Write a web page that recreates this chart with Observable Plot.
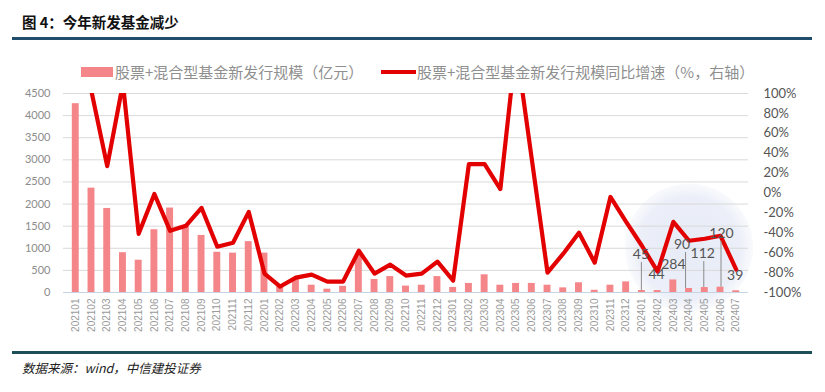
<!DOCTYPE html>
<html><head><meta charset="utf-8">
<script src="https://cdn.jsdelivr.net/npm/d3@7"></script>
<script src="https://cdn.jsdelivr.net/npm/@observablehq/plot@0.6"></script>
<style>
body{margin:0;background:#fff;}
#page{position:relative;width:825px;height:392px;overflow:hidden;font-family:"Noto Sans CJK SC",sans-serif;}
#title{position:absolute;left:22px;top:12px;font-size:14.5px;font-weight:bold;color:#111;line-height:20px;}
.rule{position:absolute;left:12px;width:800px;height:3px;}
#topRule{top:37px;background:#1f4d6b;}
#bottomRule{top:351px;background:#1b4e58;}
#legend{position:absolute;left:0;top:62px;height:20px;width:825px;font-size:15px;color:#8f8f8f;line-height:20px;}
.lg{position:absolute;top:0;white-space:nowrap;}
.sw{position:absolute;}
#chart{position:absolute;left:0;top:80px;}
#source{position:absolute;left:22px;top:359px;font-size:12.5px;font-style:italic;color:#222;line-height:18px;}
</style></head><body>
<div id="page">
  <div id="title">图 4：今年新发基金减少</div>
  <div class="rule" id="topRule"></div>
  <div id="legend">
    <div class="sw" style="left:81px;top:5px;width:32px;height:10px;background:#f4868a"></div>
    <div class="lg" style="left:115px">股票+混合型基金新发行规模（亿元）</div>
    <div class="sw" style="left:381px;top:8px;width:35px;height:4px;background:#e30000"></div>
    <div class="lg" style="left:417px">股票+混合型基金新发行规模同比增速（%，右轴）</div>
  </div>
  <div id="chart"></div>
  <div class="rule" id="bottomRule"></div>
  <div id="source">数据来源：wind，中信建投证券</div>
</div>
<script>
// ---- data ----
const months = ["202101","202102","202103","202104","202105","202106","202107","202108","202109","202110","202111","202112",
  "202201","202202","202203","202204","202205","202206","202207","202208","202209","202210","202211","202212",
  "202301","202302","202303","202304","202305","202306","202307","202308","202309","202310","202311","202312",
  "202401","202402","202403","202404","202405","202406","202407"];
// 股票+混合型基金新发行规模（亿元）
const issueSize = [4270,2360,1900,900,730,1420,1910,1500,1290,910,890,1150,
  890,160,300,165,75,140,840,295,360,145,165,360,
  115,205,400,165,205,205,165,105,220,50,165,240,
  45,44,284,90,112,120,39];
// 同比增速（%，右轴）
const yoyGrowth = [null,102,27,110,-41,-1,-38,-33,-15,-54,-50,-19,
  -81,-94,-85,-82,-89,-89,-58,-81,-72,-83,-81,-69,
  -88,29,29,4,148,34,-80,-61,-40,-70,-4,-29,
  -53,-79,-29,-48,-46,-43,-77];
const leftTicks = [0,500,1000,1500,2000,2500,3000,3500,4000,4500];
const rightTicks = [-100,-80,-60,-40,-20,0,20,40,60,80,100];
const labelledMonths = ["202401","202402","202403","202404","202405","202406","202407"];
const highlight = {month:"202404", pct:-55};

// ---- annotation layout (pixels) ----
const labelLayout = {
  "202401":{dx:-1,dy:-36,leader:28},
  "202402":{dx:-1,dy:-16,leader:0},
  "202403":{dx:0,dy:-15,leader:0},
  "202404":{dx:-7,dy:-44,leader:36},
  "202405":{dx:-2,dy:-34,leader:26},
  "202406":{dx:1,dy:-54,leader:46},
  "202407":{dx:-1,dy:-15,leader:0}
};

const yMax = 4500;
const toLeft = p => (p + 100) / 200 * yMax;
const data = months.map((m,i)=>({month:m, size:issueSize[i], yoy:yoyGrowth[i]}));
const labelData = data.filter(d=>labelledMonths.includes(d.month));

const labelMarks = [];
for (const d of labelData) {
  const L = labelLayout[d.month];
  if (L.leader > 0) {
    labelMarks.push(Plot.ruleX([d], {x:"month", y1:"size", y2:"size", insetTop:-L.leader, dx:L.dx/2, stroke:"#8a8a8a", strokeWidth:1}));
  }
  labelMarks.push(Plot.text([d], {x:"month", y:"size", text:d=>String(d.size), dx:L.dx, dy:L.dy, fontSize:14, fill:"#555", fontFamily:"Lato, sans-serif"}));
}

const chart = Plot.plot({
  width:825, height:265, marginTop:13, marginBottom:53, marginLeft:63, marginRight:77,
  style:{fontFamily:"Lato, 'Liberation Sans', sans-serif", background:"transparent", overflow:"visible"},
  x:{type:"band", domain:months, padding:0.56, label:null},
  y:{domain:[0,yMax], label:null},
  marks:[
    Plot.dot([highlight], {x:"month", y:d=>toLeft(d.pct), r:64, fill:"url(#hlGrad)", stroke:null}),
    Plot.ruleY(leftTicks.filter(t=>t>0), {stroke:"#d9d9d9", strokeWidth:1}),
    Plot.ruleY([0], {stroke:"#c6d5e4", strokeWidth:1}),
    Plot.barY(data, {x:"month", y:"size", fill:"#f4868a"}),
    Plot.axisY(leftTicks, {anchor:"left", tickSize:0, tickPadding:13, fontSize:11, color:"#8c8c8c", tickFormat:d=>String(d), label:null}),
    Plot.axisY(rightTicks.map(toLeft), {anchor:"right", tickSize:0, tickPadding:15, fontSize:13, color:"#555", tickFormat:v=>Math.round(v/yMax*200-100)+"%", label:null}),
    Plot.axisX({tickRotate:-90, tickSize:0, tickPadding:6, fontSize:10, color:"#9a9a9a", fontFamily:"'Liberation Sans', sans-serif", label:null}),
    Plot.line(data.filter(d=>d.yoy!=null), {x:"month", y:d=>toLeft(d.yoy), stroke:"#e30000", strokeWidth:4.2, clip:true}),
    ...labelMarks
  ]
});
// soft radial fill for the highlight bubble
const ns = "http://www.w3.org/2000/svg";
const defs = document.createElementNS(ns, "defs");
const grad = document.createElementNS(ns, "radialGradient");
grad.setAttribute("id", "hlGrad");
[["0%","#e4e9f5",0.9],["80%","#e8ecf7",0.85],["100%","#f1f4fa",0.5]].forEach(([o,c,a])=>{
  const s = document.createElementNS(ns, "stop");
  s.setAttribute("offset", o); s.setAttribute("stop-color", c); s.setAttribute("stop-opacity", a);
  grad.appendChild(s);
});
defs.appendChild(grad);
chart.insertBefore(defs, chart.firstChild);
document.getElementById("chart").appendChild(chart);
</script>
</body></html>
